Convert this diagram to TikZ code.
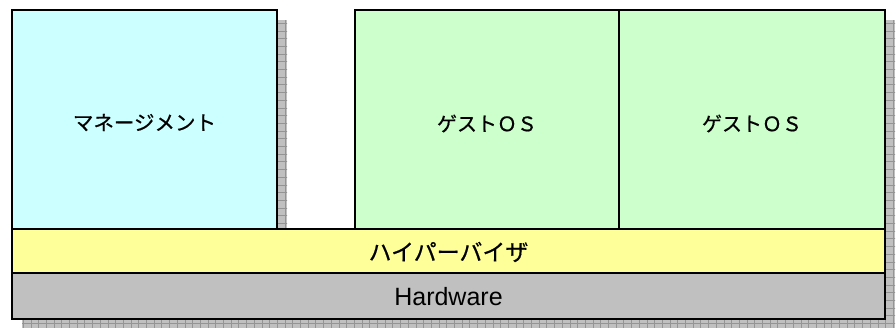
\documentclass[tikz,border=0pt]{standalone}
\usepackage{fontspec}
\newfontfamily\jpfont[FakeBold=0.6]{Noto Sans CJK JP}
\newfontfamily\arialf{Liberation Sans}
\usetikzlibrary{backgrounds}
\definecolor{mgmtc}{HTML}{CCFFFF}
\definecolor{guestc}{HTML}{CCFFCC}
\definecolor{hypc}{HTML}{FFFF99}
\definecolor{hwc}{HTML}{C0C0C0}
\definecolor{shadowc}{HTML}{C0C0C0}
\definecolor{gridc}{HTML}{949494}
\tikzset{
  layerbox/.style={draw=black, line width=1.3pt, inner sep=0pt, outer sep=0pt, anchor=north west},
  shadowgrid/.style={draw=gridc, line width=0.6pt}
}
\newcommand{\mkshadow}[2]{%
  \begin{scope}
    \clip #1 rectangle #2;
    \fill[shadowc] #1 rectangle #2;
    \draw[shadowgrid, step=7.7pt] (0,0) grid (900,330);
  \end{scope}}
\begin{document}
\begin{tikzpicture}[x=1pt,y=-1pt]
\useasboundingbox (0,0) rectangle (896,327);
\clip (0,0) rectangle (896,327);
\node[layerbox, fill=mgmtc, minimum width=265pt, minimum height=219pt] (mgmt) at (12,10) {};
\node[layerbox, fill=guestc, minimum width=264pt, minimum height=219pt] (guest1) at (355,10) {};
\node[layerbox, fill=guestc, minimum width=266pt, minimum height=219pt] (guest2) at (619,10) {};
\node[layerbox, fill=hypc, minimum width=873pt, minimum height=44pt] (hyp) at (12,229) {};
\node[layerbox, fill=hwc, minimum width=873pt, minimum height=46pt] (hw) at (12,273) {};
\node[font=\jpfont\fontsize{20.5}{24}\selectfont] (mgmtt) at ([yshift=-3pt]mgmt.center) {マネージメント};
\node[font=\jpfont\fontsize{20}{24}\selectfont] (g1t) at ([yshift=-4pt]guest1.center) {ゲストＯＳ};
\node[font=\jpfont\fontsize{20}{24}\selectfont] (g2t) at ([yshift=-4pt]guest2.center) {ゲストＯＳ};
\node[font=\jpfont\fontsize{23}{26}\selectfont] (hypt) at ([yshift=-1pt]hyp.center) {ハイパーバイザ};
\node[font=\arialf\fontsize{25}{28}\selectfont] (hwt) at ([yshift=-1pt]hw.center) {Hardware};
\begin{scope}[on background layer]
  \mkshadow{([shift={(10,10)}]mgmt.north west)}{([shift={(10,10)}]mgmt.south east)}
  \mkshadow{([shift={(10,10)}]guest1.north west)}{([shift={(10,10)}]guest2.south east)}
  \mkshadow{([shift={(10,10)}]hyp.north west)}{([shift={(10,10)}]hw.south east)}
\end{scope}
\end{tikzpicture}
\end{document}
